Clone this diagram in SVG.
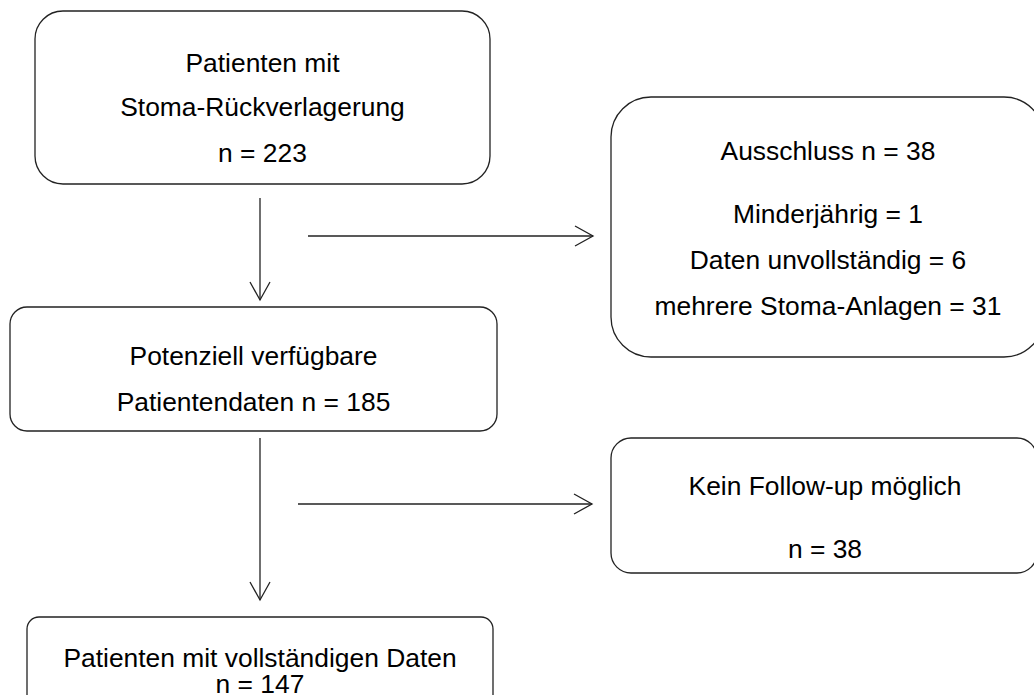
<svg xmlns="http://www.w3.org/2000/svg" width="1034" height="695" viewBox="0 0 1034 695">
<style>
.box{fill:#fff;stroke:#222;stroke-width:1.3}
.t{font-family:"Liberation Sans",Arial,sans-serif;font-size:26.4px;fill:#000;text-anchor:middle}
.c{fill:none;stroke:#222;stroke-width:1.3}
</style>
<defs>
<marker id="ah" markerWidth="24" markerHeight="24" viewBox="-20 -12 24 24" refX="0" refY="0" orient="auto" markerUnits="userSpaceOnUse">
<path d="M-18,-10 L0,0 L-18,10" fill="none" stroke="#222" stroke-width="1.3"/>
</marker>
</defs>
<rect width="1034" height="695" fill="#fff"/>
<g id="connectors">
<line class="c" x1="260" y1="198" x2="260" y2="300" marker-end="url(#ah)"/>
<line class="c" x1="308" y1="236" x2="593" y2="236" marker-end="url(#ah)"/>
<line class="c" x1="260" y1="438" x2="260" y2="600" marker-end="url(#ah)"/>
<line class="c" x1="298" y1="504" x2="592" y2="504" marker-end="url(#ah)"/>
</g>
<g id="n1">
<rect class="box" x="35" y="11" width="455" height="173" rx="28"/>
<text class="t" x="262.5" y="72">Patienten mit</text>
<text class="t" x="262.5" y="116">Stoma-Rückverlagerung</text>
<text class="t" x="262.5" y="162">n = 223</text>
</g>
<g id="n2">
<rect class="box" x="611" y="97" width="433" height="260" rx="40"/>
<text class="t" x="828" y="160">Ausschluss n = 38</text>
<text class="t" x="828" y="223">Minderjährig = 1</text>
<text class="t" x="828" y="269">Daten unvollständig = 6</text>
<text class="t" x="828" y="315">mehrere Stoma-Anlagen = 31</text>
</g>
<g id="n3">
<rect class="box" x="10" y="307" width="487" height="124" rx="17"/>
<text class="t" x="253.5" y="365">Potenziell verfügbare</text>
<text class="t" x="253.5" y="411">Patientendaten n = 185</text>
</g>
<g id="n4">
<rect class="box" x="611" y="438" width="426" height="135" rx="20"/>
<text class="t" x="825" y="495">Kein Follow-up möglich</text>
<text class="t" x="825" y="558">n = 38</text>
</g>
<g id="n5">
<rect class="box" x="27" y="617" width="466" height="110" rx="12"/>
<text class="t" x="260" y="667">Patienten mit vollständigen Daten</text>
<text class="t" x="260" y="693">n = 147</text>
</g>
</svg>
